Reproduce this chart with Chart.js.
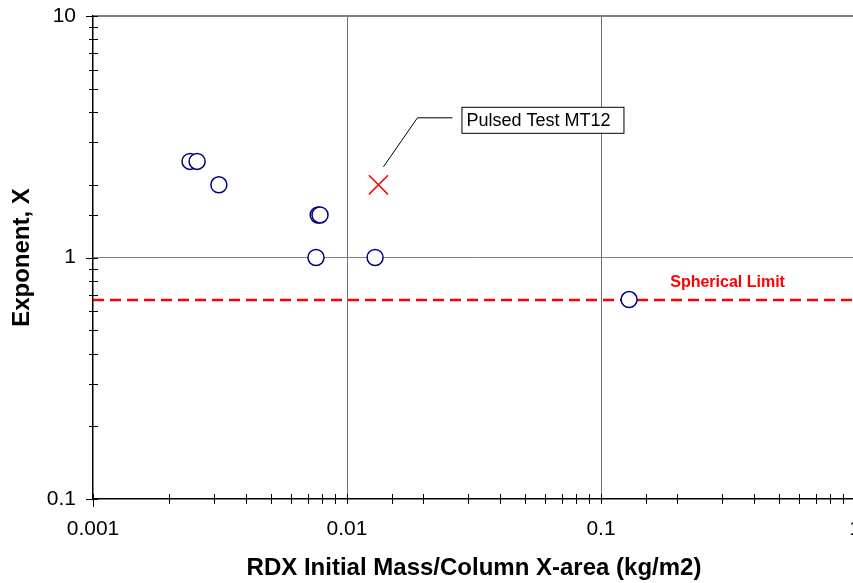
<!DOCTYPE html>
<html>
<head>
<meta charset="utf-8">
<script src="https://cdn.jsdelivr.net/npm/chart.js@4"></script>
<style>
  html, body { margin: 0; padding: 0; background: #fff; overflow: hidden; }
  #wrap { width: 870px; height: 583px; }
</style>
</head>
<body>
<div id="wrap"><canvas id="chart" width="870" height="583"></canvas></div>
<script>
// Test data
const massX = [0.00241, 0.00257, 0.00313, 0.0077, 0.00783, 0.00755, 0.0129, 0.129];
const exponentY = [2.5, 2.5, 2.0, 1.5, 1.5, 1.0, 1.0, 0.67];
const pulsedX = [0.0133];
const pulsedY = [2.0];
const sphericalLimit = 0.667;
const xRange = [0.001, 1];
const yRange = [0.1, 10];
const pulsedLabel = 'Pulsed Test MT12';
const limitLabel = 'Spherical Limit';
const limitLabelX = 0.315;

const FONT = '"Liberation Sans", Arial, sans-serif';

function isDecade(v) {
  const l = Math.log10(v);
  return Math.abs(l - Math.round(l)) < 1e-6;
}

// draws the cross ticks on both axes plus the callout and limit label
const decorations = {
  id: 'decorations',
  afterDatasetsDraw(chart) {
    const ctx = chart.ctx;
    const x = chart.scales.x;
    const y = chart.scales.y;
    const area = chart.chartArea;

    ctx.save();
    ctx.strokeStyle = '#000';
    ctx.lineWidth = 1;
    x.ticks.forEach(t => {
      const px = Math.round(x.getPixelForValue(t.value)) + 0.5;
      ctx.beginPath();
      ctx.moveTo(px, area.bottom - 5);
      ctx.lineTo(px, area.bottom + (t.value === xRange[0] ? 8 : 5));
      ctx.stroke();
    });
    y.ticks.forEach(t => {
      const py = Math.round(y.getPixelForValue(t.value)) + 0.5;
      ctx.beginPath();
      ctx.moveTo(area.left - (isDecade(t.value) ? 7 : 4), py);
      ctx.lineTo(area.left + 5, py);
      ctx.stroke();
    });

    // callout for the pulsed test
    const px = x.getPixelForValue(pulsedX[0]);
    const py = y.getPixelForValue(pulsedY[0]);
    ctx.strokeStyle = '#000';
    ctx.lineWidth = 1;
    ctx.beginPath();
    ctx.moveTo(px + 5, py - 18);
    ctx.lineTo(px + 39, py - 67);
    ctx.lineTo(px + 74, py - 67);
    ctx.stroke();
    ctx.fillStyle = '#fff';
    ctx.fillRect(px + 83.5, py - 77.5, 162, 26);
    ctx.strokeRect(px + 83.5, py - 77.5, 162, 26);
    ctx.fillStyle = '#000';
    ctx.font = '18px ' + FONT;
    ctx.textAlign = 'left';
    ctx.textBaseline = 'middle';
    ctx.fillText(pulsedLabel, px + 88, py - 64);

    // spherical limit label
    ctx.fillStyle = '#ff0000';
    ctx.font = 'bold 16px ' + FONT;
    ctx.textAlign = 'center';
    ctx.fillText(limitLabel, x.getPixelForValue(limitLabelX), y.getPixelForValue(sphericalLimit) - 17);
    ctx.restore();
  }
};

const ctx = document.getElementById('chart').getContext('2d');

new Chart(ctx, {
  data: {
    datasets: [
      {
        type: 'line',
        label: 'Spherical Limit',
        data: xRange.map(v => ({ x: v, y: sphericalLimit })),
        borderColor: '#ff0000',
        borderWidth: 2.5,
        borderDash: [11, 6],
        pointRadius: 0,
        order: 3
      },
      {
        type: 'scatter',
        label: 'Tests',
        data: massX.map((v, i) => ({ x: v, y: exponentY[i] })),
        pointStyle: 'circle',
        pointRadius: 8,
        borderColor: '#000080',
        backgroundColor: '#ffffff',
        borderWidth: 1.5,
        order: 2
      },
      {
        type: 'scatter',
        label: 'Pulsed Test MT12',
        data: pulsedX.map((v, i) => ({ x: v, y: pulsedY[i] })),
        pointStyle: 'crossRot',
        pointRadius: 13.5,
        borderColor: '#ff0000',
        borderWidth: 1.5,
        order: 1
      }
    ]
  },
  options: {
    responsive: false,
    animation: false,
    devicePixelRatio: 1,
    layout: { padding: { left: 0, top: 16, right: 15, bottom: 0 } },
    plugins: {
      legend: { display: false },
      tooltip: { enabled: false }
    },
    scales: {
      x: {
        type: 'logarithmic',
        position: 'bottom',
        min: xRange[0],
        max: xRange[1],
        afterFit: s => { s.height = 84; s.paddingLeft = 0; s.paddingRight = 0; },
        border: { display: true, color: '#000', width: 1.5 },
        grid: {
          drawTicks: false,
          lineWidth: 1,
          color: c => (c.tick && isDecade(c.tick.value) && c.tick.value > xRange[0]) ? '#707070' : 'rgba(0,0,0,0)'
        },
        ticks: {
          autoSkip: false,
          maxRotation: 0,
          padding: 18,
          color: '#000',
          font: { family: FONT, size: 21 },
          callback: v => isDecade(v) ? String(v) : ''
        },
        title: {
          display: true,
          text: 'RDX Initial Mass/Column X-area (kg/m2)',
          color: '#000',
          font: { family: FONT, size: 24, weight: 'bold' },
          padding: { top: 0, bottom: 0 }
        }
      },
      y: {
        type: 'logarithmic',
        position: 'left',
        min: yRange[0],
        max: yRange[1],
        afterFit: s => { s.width = 93; s.paddingTop = 0; s.paddingBottom = 0; },
        border: { display: true, color: '#000', width: 1.5 },
        grid: {
          drawTicks: false,
          lineWidth: c => (c.tick && c.tick.value === yRange[1]) ? 2 : 1,
          color: c => (c.tick && isDecade(c.tick.value) && c.tick.value > yRange[0]) ? '#808080' : 'rgba(0,0,0,0)'
        },
        ticks: {
          autoSkip: false,
          padding: 17,
          color: '#000',
          font: { family: FONT, size: 21 },
          callback: v => isDecade(v) ? String(v) : ''
        },
        title: {
          display: true,
          text: 'Exponent, X',
          color: '#000',
          font: { family: FONT, size: 24, weight: 'bold' },
          padding: { top: 8, bottom: 0 }
        }
      }
    }
  },
  plugins: [decorations]
});
</script>
</body>
</html>
